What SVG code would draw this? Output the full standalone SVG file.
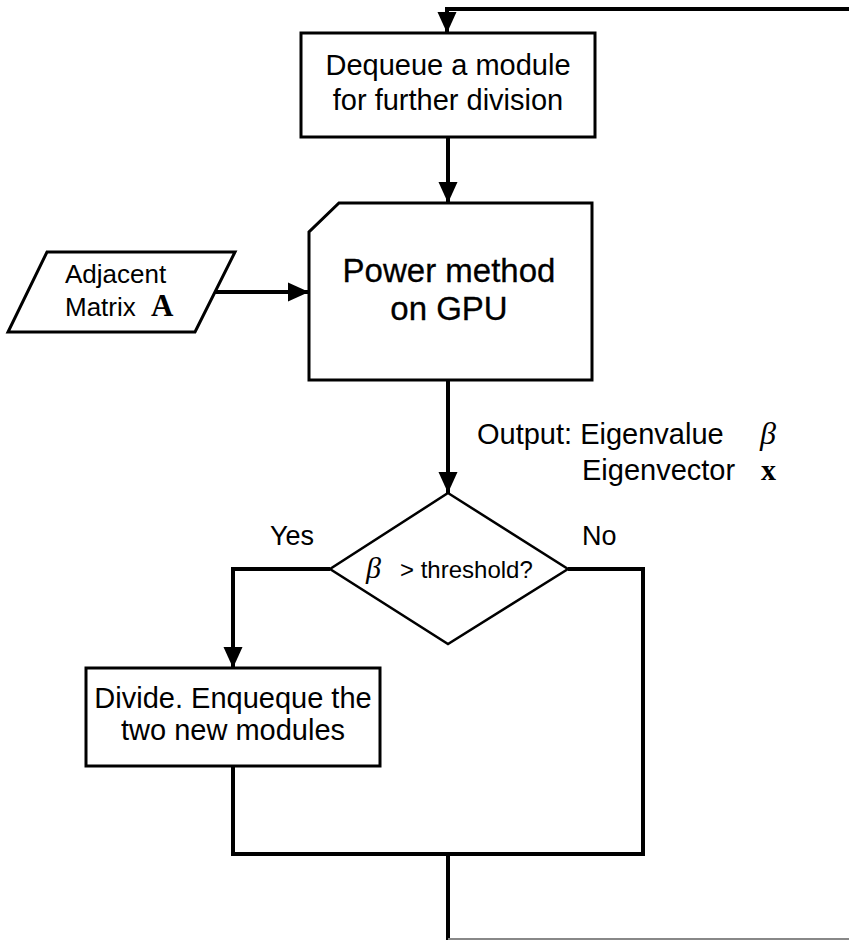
<svg xmlns="http://www.w3.org/2000/svg" width="849" height="940" viewBox="0 0 849 940">
<style>
.box{fill:#fff;stroke:#000;stroke-width:3}
.dia{fill:#fff;stroke:#000;stroke-width:2.5}
.ln{fill:none;stroke:#000;stroke-width:4;stroke-linejoin:miter}
.t{font-family:"Liberation Sans",Arial,sans-serif;fill:#000}
.s{font-family:"Liberation Serif","Times New Roman",serif;fill:#000}
</style>
<defs>
<marker id="ah" markerUnits="userSpaceOnUse" markerWidth="22" markerHeight="22" viewBox="0 0 22 22" refX="21" refY="11" orient="auto">
<path d="M0,1.5 L21,11 L0,20.5 Z" fill="#000"/>
</marker>
</defs>
<rect width="849" height="940" fill="#fff"/>
<g id="connectors">
<path class="ln" d="M849,9 H447 V33" marker-end="url(#ah)"/>
<path class="ln" d="M448,137 V203" marker-end="url(#ah)"/>
<path class="ln" d="M215,292 H309" marker-end="url(#ah)"/>
<path class="ln" d="M448,380 V493" marker-end="url(#ah)"/>
<path class="ln" d="M330,569 H233 V668" marker-end="url(#ah)"/>
<path class="ln" d="M568,569 H643 V854 H233 V766"/>
<path class="ln" d="M448,854 V940"/>
<path d="M448,939 H849" stroke="#888" stroke-width="2" fill="none"/>
</g>
<g id="dequeue">
<rect class="box" x="301" y="33" width="294" height="104"/>
<text class="t" x="448" y="75" font-size="29" text-anchor="middle">Dequeue a module</text>
<text class="t" x="448" y="110" font-size="29" text-anchor="middle">for further division</text>
</g>
<g id="power">
<path class="box" d="M339,203 H592 V380 H309 V232 Z"/>
<text class="t" x="449" y="282" font-size="33" text-anchor="middle" stroke="#000" stroke-width="0.3">Power method</text>
<text class="t" x="449" y="320" font-size="33" text-anchor="middle" stroke="#000" stroke-width="0.3">on GPU</text>
</g>
<g id="matrix">
<path class="box" d="M47,252 H235 L195,332 H8 Z"/>
<text class="t" x="65" y="283" font-size="26">Adjacent</text>
<text class="t" x="65" y="316" font-size="26">Matrix</text>
<text class="s" x="151" y="316" font-size="31" font-weight="bold">A</text>
</g>
<g id="output-label">
<text class="t" x="477" y="444" font-size="29">Output: Eigenvalue</text>
<text class="s" x="760" y="444" font-size="32" font-style="italic">β</text>
<text class="t" x="582" y="480" font-size="29">Eigenvector</text>
<text class="s" x="761" y="480" font-size="30" font-weight="bold">x</text>
</g>
<g id="decision">
<path class="dia" d="M448,493 L568,569 L448,644 L330,569 Z"/>
<text class="s" x="366" y="578" font-size="30" font-style="italic">β</text>
<text class="t" x="400" y="578" font-size="24">&gt; threshold?</text>
<text class="t" x="270" y="545" font-size="27">Yes</text>
<text class="t" x="582" y="545" font-size="27">No</text>
</g>
<g id="divide">
<rect class="box" x="86" y="668" width="294" height="98"/>
<text class="t" x="233" y="708" font-size="29" text-anchor="middle">Divide. Enqueque the</text>
<text class="t" x="233" y="740" font-size="29" text-anchor="middle">two new modules</text>
</g>
</svg>
